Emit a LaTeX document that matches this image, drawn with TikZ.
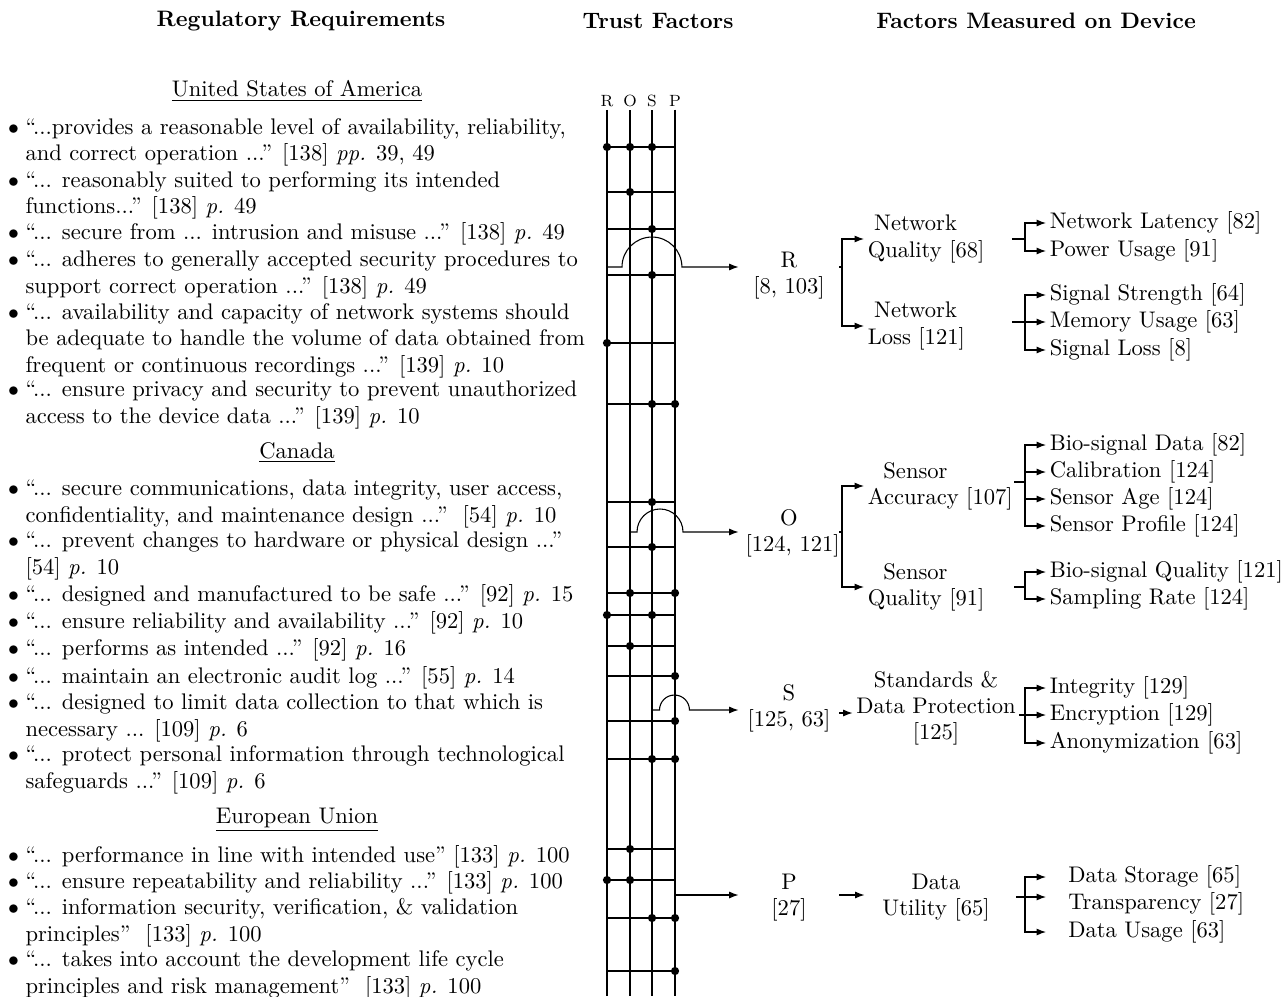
\documentclass[tikz,border=0pt]{standalone}
\usepackage{tikz}
\usetikzlibrary{arrows.meta}
\newcommand{\reqbullet}{\llap{$\bullet$\hspace{3pt}}}

\begin{document}
\begin{tikzpicture}[x=0.4608pt,y=-0.4608pt,>={Latex[length=4.3pt,width=3.2pt]},line width=0.5pt,
  font=\fontsize{10.4pt}{12pt}\selectfont,
  req/.style={anchor=base west,align=left,inner sep=0pt},
  region/.style={anchor=base,inner sep=0pt},
  head/.style={font=\fontsize{10.3pt}{12pt}\selectfont\bfseries,inner sep=0pt},
  bus/.style={font=\fontsize{7.5pt}{9pt}\selectfont,inner sep=1.2pt},
  trust/.style={align=center,text width=40pt,inner sep=3pt},
  measured/.style={align=center,text width=44pt,inner sep=1.5pt},
  plain/.style={align=center,inner sep=1.5pt},
  leaf/.style={anchor=west,inner sep=1.5pt}]
\useasboundingbox (0,0) rectangle (1288,996);
% column heads
\node[head] (hreg) at (301,21) {Regulatory Requirements};
\node[head] (htrust) at (658,21) {Trust Factors};
\node[head] (hmeas) at (1036,21) {Factors Measured on Device};
% regulatory requirements (anchored at the last line)
\node[region] (us) at (297,97) {\underline{United States of America}};
\node[req] (q1) at (25,161) {\reqbullet``...provides a reasonable level of availability, reliability,\\and correct operation ...'' [138] \textit{pp.} 39, 49};
\node[req] (q2) at (25,214) {\reqbullet``... reasonably suited to performing its intended\\functions...'' [138] \textit{p.} 49};
\node[req] (q3) at (25,240) {\reqbullet``... secure from ... intrusion and misuse ...'' [138] \textit{p.} 49};
\node[req] (q4) at (25,293) {\reqbullet``... adheres to generally accepted security procedures to\\support correct operation ...'' [138] \textit{p.} 49};
\node[req] (q5) at (25,372) {\reqbullet``... availability and capacity of network systems should\\be adequate to handle the volume of data obtained from\\frequent or continuous recordings ...'' [139] \textit{p.} 10};
\node[req] (q6) at (25,423) {\reqbullet``... ensure privacy and security to prevent unauthorized\\access to the device data ...'' [139] \textit{p.} 10};
\node[region] (ca) at (297,458) {\underline{Canada}};
\node[req] (q7) at (25,522) {\reqbullet``... secure communications, data integrity, user access,\\confidentiality, and maintenance design ...''~~[54] \textit{p.} 10};
\node[req] (q8) at (25,574) {\reqbullet``... prevent changes to hardware or physical design ...''\\{[54]} \textit{p.} 10};
\node[req] (q9) at (25,601) {\reqbullet``... designed and manufactured to be safe ...'' [92] \textit{p.} 15};
\node[req] (q10) at (25,628) {\reqbullet``... ensure reliability and availability ...'' [92] \textit{p.} 10};
\node[req] (q11) at (25,655) {\reqbullet``... performs as intended ...'' [92] \textit{p.} 16};
\node[req] (q12) at (25,683) {\reqbullet``... maintain an electronic audit log ...'' [55] \textit{p.} 14};
\node[req] (q13) at (25,736) {\reqbullet``... designed to limit data collection to that which is\\necessary ... [109] \textit{p.} 6};
\node[req] (q14) at (25,788) {\reqbullet``... protect personal information through technological\\safeguards ...'' [109] \textit{p.} 6};
\node[region] (eu) at (297,823) {\underline{European Union}};
\node[req] (q15) at (25,862) {\reqbullet``... performance in line with intended use'' [133] \textit{p.} 100};
\node[req] (q16) at (25,888) {\reqbullet``... ensure repeatability and reliability ...'' [133] \textit{p.} 100};
\node[req] (q17) at (25,941) {\reqbullet``... information security, verification, \& validation\\principles''~~[133] \textit{p.} 100};
\node[req] (q18) at (25,993) {\reqbullet``... takes into account the development life cycle\\principles and risk management''~~[133] \textit{p.} 100};
% trust factor buses
\node[bus] (lR) at (607,101) {R};
\node[bus] (lO) at (630,101) {O};
\node[bus] (lS) at (652,101) {S};
\node[bus] (lP) at (675,101) {P};
\coordinate (bot) at (0,996);
\draw (lR) -- (lR |- bot);
\draw (lO) -- (lO |- bot);
\draw (lS) -- (lS |- bot);
\draw (lP) -- (lP |- bot);
\foreach \y in {147,192,229,275,343,404,502,547,593,615,646,676,721,759,849,880,918,971}
  \draw (lR |- 0,\y) -- (lP |- 0,\y);
\foreach \y in {147,343,615,880}
  \fill (lR |- 0,\y) circle (1.9pt);
\foreach \y in {147,192,593,646,849,880}
  \fill (lO |- 0,\y) circle (1.9pt);
\foreach \y in {147,229,275,404,502,547,615,759,918}
  \fill (lS |- 0,\y) circle (1.9pt);
\foreach \y in {404,593,676,721,759,918,971}
  \fill (lP |- 0,\y) circle (1.9pt);
% trust factors
\node[trust] (rn) at (789,276) {R\\{[8,~103]}};
\node[trust] (on) at (789,533) {O\\{[124,~121]}};
\node[trust] (sn) at (789,708) {S\\{[125,~63]}};
\node[trust] (pn) at (789,898) {P\\{[27]}};
\draw[->] (lR |- 0,267) -- ++(15,0) arc[start angle=180,end angle=0,radius=13.8pt] -- (rn.west |- 0,267);
\draw[->] (lO |- 0,532) -- ++(7,0) arc[start angle=180,end angle=0,radius=10.6pt] -- (on.west |- 0,532);
\draw[->] (lS |- 0,710) -- ++(7.5,0) arc[start angle=180,end angle=0,radius=6.9pt] -- (sn.west |- 0,710);
\draw[->] (lP |- 0,895) -- (pn.west |- 0,895);
% measured factors
\node[measured] (nq) at (915.5,239) {Network\\Quality~[68]};
\node[measured] (nl) at (915.5,326) {Network\\Loss~[121]};
\node[measured] (sa) at (915.5,486) {Sensor\\Accuracy~[107]};
\node[measured] (sq) at (915.5,587) {Sensor\\Quality~[91]};
\node[plain] (sdp) at (936,708) {Standards \&\\Data Protection\\{[125]}};
\node[plain,inner xsep=8pt] (du) at (936,898) {Data\\Utility [65]};
\coordinate (jR) at (842,267);
\coordinate (jO) at (842,532);
\draw (rn.east |- jR) -- (jR);
\draw[->] (jR) |- (nq.west);
\draw[->] (jR) |- (nl.west);
\draw (on.east |- jO) -- (jO);
\draw[->] (jO) |- (sa.west);
\draw[->] (jO) |- (sq.west);
\draw[->] (sn.east |- 0,713) -- (sdp.west |- 0,713);
\draw[->] (pn.east |- 0,895) -- (du.west |- 0,895);
% leaves
\node[leaf] (lat) at (1046,223) {Network Latency [82]};
\node[leaf] (pow) at (1046,251) {Power Usage [91]};
\node[leaf] (sst) at (1046,295) {Signal Strength [64]};
\node[leaf] (mem) at (1046,322) {Memory Usage [63]};
\node[leaf] (slo) at (1046,350) {Signal Loss [8]};
\node[leaf] (bsd) at (1046,445) {Bio-signal Data [82]};
\node[leaf] (cal) at (1046,472) {Calibration [124]};
\node[leaf] (age) at (1046,499) {Sensor Age [124]};
\node[leaf] (pro) at (1046,526) {Sensor Profile [124]};
\node[leaf] (bsq) at (1046,572) {Bio-signal Quality [121]};
\node[leaf] (smp) at (1046,599) {Sampling Rate [124]};
\node[leaf] (int) at (1046,688) {Integrity [129]};
\node[leaf] (enc) at (1046,715) {Encryption [129]};
\node[leaf] (ano) at (1046,743) {Anonymization [63]};
\node[leaf,inner xsep=10pt] (dst) at (1046,877) {Data Storage [65]};
\node[leaf,inner xsep=10pt] (tra) at (1046,904) {Transparency [27]};
\node[leaf,inner xsep=10pt] (dus) at (1046,932) {Data Usage [63]};
\coordinate (jNQ) at (1025,239);
\coordinate (jNL) at (1025,322);
\coordinate (jSA) at (1025,482);
\coordinate (jSQ) at (1025,587);
\coordinate (jSD) at (1025,715);
\coordinate (jDU) at (1025,897);
\draw ([xshift=-6pt]jNQ) -- (jNQ);
\draw[->] (jNQ) |- (lat.west);
\draw[->] (jNQ) |- (pow.west);
\draw ([xshift=-6pt]jNL) -- (jNL);
\draw[->] (jNL) |- (sst.west);
\draw[->] (jNL) -- (mem.west);
\draw[->] (jNL) |- (slo.west);
\draw ([xshift=-5pt]jSA) -- (jSA);
\draw[->] (jSA) |- (bsd.west);
\draw[->] (jSA) |- (cal.west);
\draw[->] (jSA) |- (age.west);
\draw[->] (jSA) |- (pro.west);
\draw ([xshift=-5pt]jSQ) -- (jSQ);
\draw[->] (jSQ) |- (bsq.west);
\draw[->] (jSQ) |- (smp.west);
\draw (sdp.east |- jSD) -- (jSD);
\draw[->] (jSD) |- (int.west);
\draw[->] (jSD) -- (enc.west);
\draw[->] (jSD) |- (ano.west);
\draw ([xshift=-4pt]jDU) -- (jDU);
\draw[->] (jDU) |- (dst.west);
\draw[->] (jDU) -- (tra.west |- jDU);
\draw[->] (jDU) |- (dus.west);
\end{tikzpicture}
\end{document}
